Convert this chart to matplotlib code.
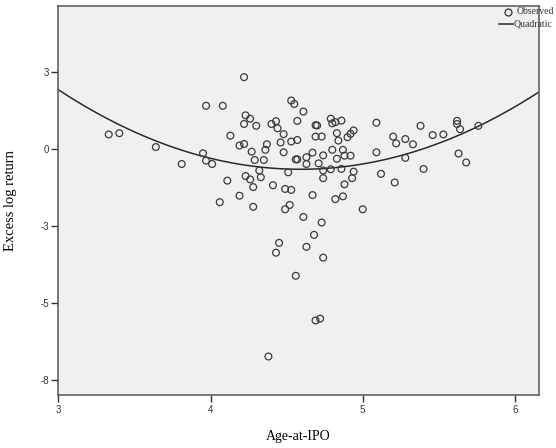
import numpy as np
import matplotlib
matplotlib.use("Agg")
import matplotlib.pyplot as plt
from matplotlib.lines import Line2D

# ============================================================
# 0. 数据
# ============================================================
age_at_ipo = [
    4.22, 3.97, 4.08, 4.53, 4.55, 4.61, 4.23, 4.26, 4.22, 4.30,
    4.13, 4.43, 4.40, 4.44, 4.48, 4.57, 4.69, 4.70, 4.69, 4.73,
    4.79, 4.80, 4.82, 4.86, 4.83, 4.84, 4.90, 4.92, 4.94, 5.09,
    5.20, 5.22, 5.28, 5.33, 5.38, 5.46, 5.53, 5.62, 5.62, 5.64,
    5.76, 3.33, 3.40, 3.64, 4.53, 4.57, 4.46, 4.37, 4.19, 4.22,
    3.95, 3.97, 4.01, 3.81, 4.27, 4.36, 4.29, 4.35, 4.48, 4.56,
    4.57, 4.63, 4.63, 4.67, 4.74, 4.71, 4.80, 4.83, 4.87, 4.88,
    4.92, 5.09, 5.28, 5.63, 5.68, 4.32, 4.51, 4.74, 4.79, 4.86,
    4.94, 4.93, 4.23, 4.26, 4.33, 4.28, 4.11, 4.41, 4.74, 4.88,
    5.12, 5.21, 5.40, 4.49, 4.53, 4.19, 4.06, 4.28, 4.67, 4.82,
    4.87, 4.52, 4.49, 5.00, 4.61, 4.73, 4.68, 4.45, 4.43, 4.63,
    4.74, 4.56, 4.69, 4.72, 4.38,
]
excess_log_return = [
    2.33, 1.40, 1.40, 1.57, 1.46, 1.21, 1.09, 0.98, 0.81, 0.75,
    0.43, 0.90, 0.81, 0.67, 0.48, 0.91, 0.77, 0.76, 0.40, 0.40,
    0.98, 0.83, 0.87, 0.92, 0.51, 0.27, 0.38, 0.49, 0.60, 0.85,
    0.40, 0.18, 0.32, 0.15, 0.75, 0.45, 0.47, 0.91, 0.81, 0.64,
    0.75, 0.47, 0.51, 0.06, 0.24, 0.29, 0.21, 0.15, 0.11, 0.16,
    -0.14, -0.38, -0.49, -0.49, -0.09, -0.03, -0.36, -0.36, -0.11, -0.34,
    -0.34, -0.27, -0.49, -0.12, -0.21, -0.47, -0.03, -0.32, -0.03, -0.22,
    -0.22, -0.11, -0.29, -0.15, -0.44, -0.70, -0.76, -0.70, -0.66, -0.65,
    -0.74, -0.95, -0.88, -0.99, -0.92, -1.24, -1.03, -1.18, -0.95, -1.15,
    -0.81, -1.09, -0.65, -1.30, -1.33, -1.52, -1.73, -1.88, -1.50, -1.63,
    -1.54, -1.82, -1.96, -1.96, -2.21, -2.39, -2.79, -3.05, -3.37, -3.18,
    -3.53, -4.12, -5.57, -5.51, -6.74,
]

# 二次拟合曲线系数 y = a*x^2 + b*x + c（按图中曲线估计）
quad_coef = [1.02, -9.364, 20.83]

y_ticks = [2.5, 0, -2.5, -5, -7.5]
y_tick_labels = ["3", "0", "-3", "-5", "-8"]
x_ticks = [3, 4, 5, 6]
x_tick_labels = ["3", "4", "5", "6"]

# ============================================================
# 1. 绘图
# ============================================================
fig = plt.figure(figsize=(5.56, 4.48), dpi=100)
ax = fig.add_axes([0.1052, 0.1183, 0.8640, 0.8690])
ax.set_facecolor("#f0f0f0")

ax.scatter(age_at_ipo, excess_log_return, s=24, facecolors="none",
           edgecolors="#3a3a3a", linewidths=0.9, zorder=3)

xs = np.linspace(3.0, 6.158, 300)
ax.plot(xs, np.polyval(quad_coef, xs), color="#2a2a2a", lw=1.1, zorder=2)

ax.set_xlim(3.0, 6.158)
ax.set_ylim(-7.99, 4.65)

ax.set_xticks(x_ticks)
ax.set_xticklabels(x_tick_labels)
ax.set_yticks(y_ticks)
ax.set_yticklabels(y_tick_labels)
ax.tick_params(axis="both", direction="out", length=5, width=1.0,
               color="#333333", labelsize=7, labelcolor="#333333", pad=2)
for lab in ax.get_xticklabels() + ax.get_yticklabels():
    lab.set_family("Liberation Sans")

for sp in ax.spines.values():
    sp.set_color("#555555")
    sp.set_linewidth(1.1)

ax.set_xlabel("Age-at-IPO", family="Liberation Serif", fontsize=10,
              labelpad=11)
ax.set_ylabel("Excess log return", family="Liberation Serif", fontsize=10.5,
              labelpad=17)

# 图例（右上角）
fig.add_artist(Line2D([508 / 556], [1 - 12 / 448], marker="o", ms=5,
                      mfc="none", mec="#333333", mew=0.9, ls="none",
                      transform=fig.transFigure))
fig.add_artist(Line2D([499 / 556, 513 / 556], [1 - 24 / 448, 1 - 24 / 448],
                      color="#2a2a2a", lw=1.1, transform=fig.transFigure))
fig.text(517 / 556, 1 - 12 / 448, "Observed", family="Liberation Serif",
         fontsize=7, va="center", ha="left", color="#333333")
fig.text(514 / 556, 1 - 24 / 448, "Quadratic", family="Liberation Serif",
         fontsize=7, va="center", ha="left", color="#333333")

fig.savefig("out.png", dpi=100)
